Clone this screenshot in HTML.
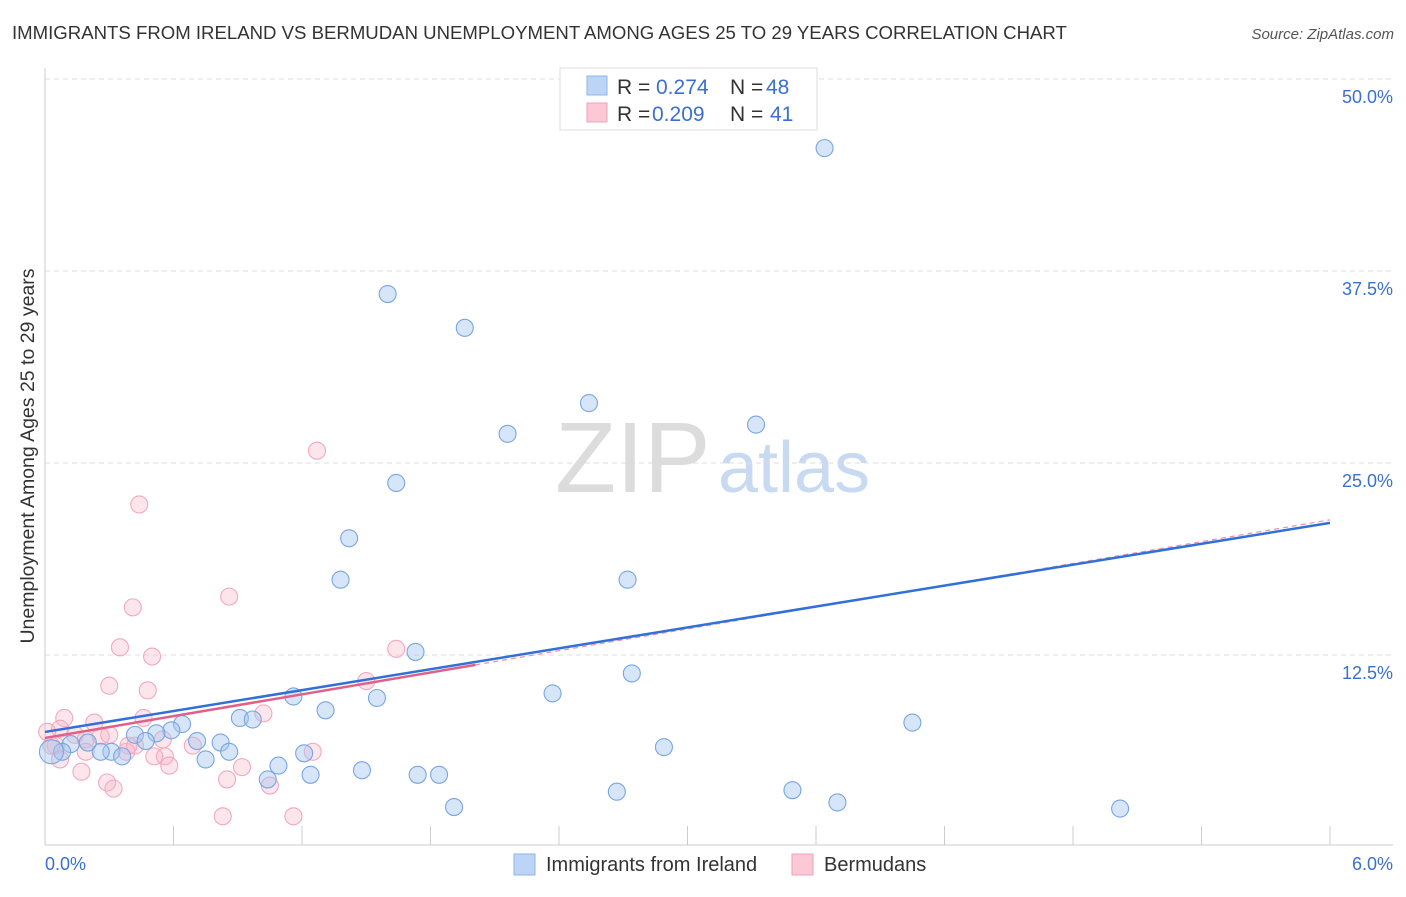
<!DOCTYPE html>
<html><head><meta charset="utf-8"><style>
body{margin:0;background:#fff;font-family:"Liberation Sans",sans-serif}
svg text{font-family:"Liberation Sans",sans-serif}
</style></head><body>
<svg id="chart" width="1406" height="892">
<text x="12" y="39" font-size="18.6" fill="#333">IMMIGRANTS FROM IRELAND VS BERMUDAN UNEMPLOYMENT AMONG AGES 25 TO 29 YEARS CORRELATION CHART</text>
<text x="1394" y="39" font-size="15" fill="#555" font-style="italic" text-anchor="end">Source: ZipAtlas.com</text>
<text x="555" y="492" font-size="100" fill="#dcdcdc" font-family="Liberation Serif">ZIP</text>
<text x="718" y="492" font-size="72" fill="#c8d9f2">atlas</text>
<g id="grid"></g>
<g id="axes"></g>
<g id="pts"></g>
<g id="trend"></g>
<text transform="translate(34,456) rotate(-90)" font-size="19.5" fill="#333" text-anchor="middle">Unemployment Among Ages 25 to 29 years</text>
<g>
<rect x="560" y="68" width="257" height="62" fill="#fff" stroke="#ddd"/>
<rect x="587" y="76" width="20" height="19" fill="#bcd4f5" stroke="#8fb4ea"/>
<text x="617" y="94" font-size="21" fill="#333">R = </text><text x="656" y="94" font-size="21" fill="#3a70d0">0.274</text>
<text x="730" y="94" font-size="21" fill="#333">N = </text><text x="766" y="94" font-size="21" fill="#3a70d0">48</text>
<rect x="587" y="103" width="20" height="19" fill="#fcc8d6" stroke="#f0a0b8"/>
<text x="617" y="121" font-size="21" fill="#333">R = </text><text x="652" y="121" font-size="21" fill="#3a70d0">0.209</text>
<text x="730" y="121" font-size="21" fill="#333">N = </text><text x="770" y="121" font-size="21" fill="#3a70d0">41</text>
</g>
<g>
<rect x="514" y="854" width="21" height="21" fill="#bcd4f5" stroke="#8fb4ea"/>
<text x="546" y="871" font-size="20" fill="#333">Immigrants from Ireland</text>
<rect x="792" y="854" width="21" height="21" fill="#fcc8d6" stroke="#f0a0b8"/>
<text x="824" y="871" font-size="20" fill="#333">Bermudans</text>
</g>
</svg>
<script>
const yTicks=[12.5,25,37.5,50];
const yTickLabels=["12.5%","25.0%","37.5%","50.0%"];
const xTickLabels=["0.0%","6.0%"];
const irelandX=[3.64,1.60,1.96,2.54,2.16,3.32,1.64,1.42,1.38,2.72,1.73,2.74,2.37,1.16,1.55,1.31,4.05,0.91,0.97,0.64,0.59,0.52,0.42,0.47,0.82,0.71,2.89,0.86,1.21,0.31,0.26,0.36,0.75,0.20,0.12,0.08,0.03,1.09,1.48,1.24,1.04,1.74,1.84,3.49,2.67,1.91,3.70,5.02];
const irelandY=[45.5,36.0,33.8,28.9,26.9,27.5,23.7,20.1,17.4,17.4,12.7,11.3,10.0,9.8,9.7,8.9,8.1,8.4,8.3,8.0,7.6,7.4,7.3,6.9,6.8,6.9,6.5,6.2,6.1,6.2,6.2,5.9,5.7,6.8,6.7,6.2,6.2,5.3,5.0,4.7,4.4,4.7,4.7,3.7,3.6,2.6,2.9,2.5];
const bermudaX=[1.27,0.44,0.86,0.41,0.35,1.64,0.50,0.30,1.50,0.48,1.02,0.46,0.09,0.23,0.07,0.01,0.14,0.26,0.55,0.42,0.69,0.05,0.19,0.38,0.51,0.56,1.25,0.19,0.03,0.17,0.92,0.29,0.85,1.05,0.32,0.83,1.16,0.39,0.30,0.07,0.58];
const bermudaY=[25.8,22.3,16.3,15.6,13.0,12.9,12.4,10.5,10.8,10.2,8.7,8.4,8.4,8.1,7.7,7.5,7.3,7.2,7.0,6.6,6.6,6.6,7.0,6.2,5.9,5.9,6.2,6.2,6.6,4.9,5.2,4.2,4.4,4.0,3.8,2.0,2.0,6.6,7.3,5.7,5.3];
const irelandTrend=[7.49,21.1];
const bermudaTrend=[7.1,21.3];
const bermudaSolidEnd=2.01;

const X0=45,X1=1330,Y0=847,PX_PER=192/12.5;
const sx=v=>X0+(v/6)*(X1-X0);
const sy=v=>Y0-v*PX_PER;
const NS="http://www.w3.org/2000/svg";
function mk(tag,attrs,parent){const e=document.createElementNS(NS,tag);for(const k in attrs)e.setAttribute(k,attrs[k]);parent.appendChild(e);return e;}
const grid=document.getElementById('grid'),axes=document.getElementById('axes'),pts=document.getElementById('pts'),trend=document.getElementById('trend');
yTicks.forEach((t,i)=>{
 const l=mk('line',{x1:X0,x2:1393,y1:sy(t),y2:sy(t),stroke:'#dcdcdc','stroke-dasharray':'5,4'},grid);
 
 
 const tx=mk('text',{x:1393,y:sy(t)+24,'font-size':18,fill:'#3a70d0','text-anchor':'end'},axes);
 tx.textContent=yTickLabels[i];
 
 
});
const ax=mk('line',{x1:X0,x2:1393,y1:845,y2:845,stroke:'#ccc'},axes);


const ay=mk('line',{x1:X0,x2:X0,y1:68,y2:845,stroke:'#ccc'},axes);


for(let i=0;i<=10;i++){
 const t=mk('line',{x1:sx(i*0.6),x2:sx(i*0.6),y1:826,y2:845,stroke:'#ccc'},axes);
 
 
}
const xl0=mk('text',{x:45,y:870,'font-size':18,fill:'#3a70d0'},axes);xl0.textContent=xTickLabels[0];


const xl1=mk('text',{x:1393,y:870,'font-size':18,fill:'#3a70d0','text-anchor':'end'},axes);xl1.textContent=xTickLabels[1];


bermudaX.forEach((v,i)=>{
 const c=mk('circle',{cx:sx(v),cy:sy(bermudaY[i]),r:8.5,fill:'rgba(248,180,200,0.35)',stroke:'#f2a8bd','stroke-width':1.1},pts);
 
 
});
irelandX.forEach((v,i)=>{
 const c=mk('circle',{cx:sx(v),cy:sy(irelandY[i]),r:i==36?12:8.5,fill:'rgba(165,198,240,0.45)',stroke:'#78a6e2','stroke-width':1.1},pts);
 
 
});
const bAt=x=>bermudaTrend[0]+(bermudaTrend[1]-bermudaTrend[0])*x/6;
const pd=mk('line',{x1:sx(bermudaSolidEnd),y1:sy(bAt(bermudaSolidEnd)),x2:sx(6),y2:sy(bermudaTrend[1]),stroke:'#e890a8','stroke-width':1.2,'stroke-dasharray':'5,4'},trend);


const ps=mk('line',{x1:sx(0),y1:sy(bermudaTrend[0]),x2:sx(bermudaSolidEnd),y2:sy(bAt(bermudaSolidEnd)),stroke:'#e06088','stroke-width':2.5},trend);


const bl=mk('line',{x1:sx(0),y1:sy(irelandTrend[0]),x2:sx(6),y2:sy(irelandTrend[1]),stroke:'#3070d8','stroke-width':2.5},trend);


</script>
</body></html>
